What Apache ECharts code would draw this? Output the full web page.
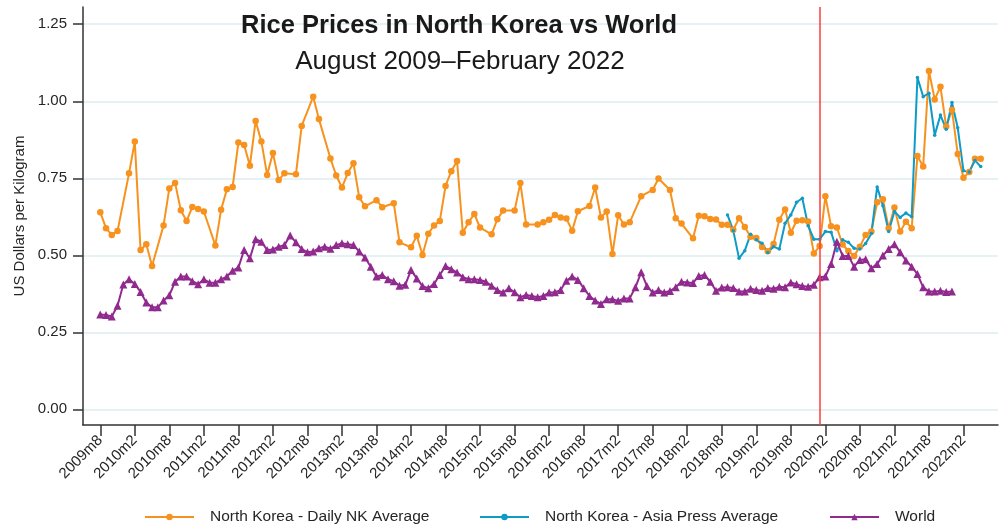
<!DOCTYPE html>
<html>
<head>
<meta charset="utf-8">
<script src="https://cdn.jsdelivr.net/npm/echarts@6/dist/echarts.min.js"></script>
<style>
  html, body { margin: 0; background: #fff; }
  #chart { width: 1000px; height: 526px; }
</style>
</head>
<body>
<div id="chart"></div>
<script>
// Months are counted from 2009m8 (index 0). null = no observation that month.
const tickLabels = [
  "2009m8", "2010m2", "2010m8", "2011m2", "2011m8", "2012m2", "2012m8",
  "2013m2", "2013m8", "2014m2", "2014m8", "2015m2", "2015m8", "2016m2",
  "2016m8", "2017m2", "2017m8", "2018m2", "2018m8", "2019m2", "2019m8",
  "2020m2", "2020m8", "2021m2", "2021m8", "2022m2",
];
const yTicks = [0, 0.25, 0.5, 0.75, 1.0, 1.25];

const dailyNK = [
  0.640, 0.588, 0.566, 0.579, null, 0.766, 0.869, 0.517, 0.536, 0.465,
  null, 0.597, 0.717, 0.735, 0.646, 0.611, 0.657, 0.650, 0.642, null,
  0.532, 0.648, 0.714, 0.722, 0.866, 0.858, 0.791, 0.936, 0.869, 0.761,
  0.832, 0.744, 0.766, null, 0.763, 0.920, null, 1.015, 0.942, null,
  0.814, 0.759, 0.720, 0.767, 0.799, 0.688, 0.659, null, 0.679, 0.656,
  null, 0.669, 0.542, null, 0.526, 0.563, 0.501, 0.570, 0.597, 0.611,
  0.725, 0.773, 0.806, 0.573, 0.607, 0.634, 0.590, null, 0.568, 0.617,
  0.645, null, 0.645, 0.735, 0.600, null, 0.600, 0.607, 0.615, 0.631,
  0.623, 0.619, 0.580, 0.643, null, 0.660, 0.720, 0.623, 0.642, 0.504,
  0.630, 0.600, 0.607, null, 0.692, null, 0.712, 0.749, null, 0.712,
  0.620, 0.603, null, 0.555, 0.628, 0.627, 0.618, 0.616, 0.599, 0.599,
  0.583, 0.620, 0.592, 0.560, 0.556, 0.527, 0.513, 0.537, 0.615, 0.649,
  0.573, 0.612, 0.614, 0.610, 0.506, 0.530, 0.692, 0.594, 0.590, 0.535,
  0.514, 0.498, 0.528, 0.566, 0.577, 0.672, 0.682, 0.588, 0.655, 0.577,
  0.609, 0.588, 0.822, 0.788, 1.098, 1.006, 1.047, 0.918, 0.972, 0.829,
  0.752, 0.770, 0.813, 0.813,
];

// Asia Press series begins in 2018m9
const asiaPressStart = "2018m9";
const asiaPress = [
  0.631, 0.580, 0.490, 0.515, 0.568, 0.550, 0.539, 0.509, 0.528, 0.520,
  0.604, 0.631, 0.672, 0.685, 0.596, 0.552, 0.552, 0.577, 0.575, 0.515,
  0.550, 0.542, 0.523, 0.520, 0.538, 0.571, 0.722, 0.661, 0.577, 0.642,
  0.623, 0.637, 0.625, 1.077, 1.015, 1.026, 0.890, 0.955, 0.909, 0.996,
  0.914, 0.774, 0.770, 0.808, 0.788,
];

const world = [
  0.308, 0.306, 0.301, 0.336, 0.405, 0.422, 0.407, 0.381, 0.347, 0.331,
  0.331, 0.353, 0.370, 0.414, 0.431, 0.431, 0.416, 0.406, 0.422, 0.411,
  0.411, 0.422, 0.431, 0.450, 0.460, 0.517, 0.490, 0.552, 0.544, 0.517,
  0.519, 0.528, 0.533, 0.564, 0.542, 0.520, 0.510, 0.512, 0.523, 0.528,
  0.521, 0.533, 0.539, 0.536, 0.533, 0.512, 0.493, 0.463, 0.431, 0.436,
  0.422, 0.416, 0.401, 0.404, 0.452, 0.425, 0.400, 0.393, 0.407, 0.436,
  0.465, 0.455, 0.444, 0.429, 0.422, 0.422, 0.420, 0.414, 0.401, 0.387,
  0.379, 0.393, 0.380, 0.364, 0.371, 0.368, 0.364, 0.368, 0.379, 0.380,
  0.387, 0.417, 0.431, 0.420, 0.393, 0.368, 0.353, 0.342, 0.357, 0.357,
  0.352, 0.360, 0.360, 0.396, 0.445, 0.400, 0.379, 0.387, 0.379, 0.384,
  0.396, 0.414, 0.412, 0.410, 0.433, 0.436, 0.414, 0.385, 0.395, 0.396,
  0.394, 0.382, 0.382, 0.391, 0.387, 0.385, 0.394, 0.391, 0.398, 0.396,
  0.412, 0.406, 0.400, 0.398, 0.404, 0.429, 0.431, 0.472, 0.544, 0.498,
  0.498, 0.463, 0.485, 0.487, 0.458, 0.472, 0.499, 0.520, 0.536, 0.510,
  0.483, 0.463, 0.439, 0.396, 0.382, 0.382, 0.385, 0.381, 0.382,
];

const breakMonth = "2020m1"; // red reference line

const names = [
  "North Korea - Daily NK Average",
  "North Korea - Asia Press Average",
  "World",
];
const colors = ["#f7921e", "#0e9bc5", "#912a8e"];

function monthIndex(label) {
  const [y, m] = label.split("m").map(Number);
  return (y - 2009) * 12 + (m - 8);
}
function monthLabel(i) {
  const t = 2009 * 12 + 7 + i;
  return Math.floor(t / 12) + "m" + ((t % 12) + 1);
}
function pairs(values, offset) {
  return values
    .map((v, i) => (v == null ? null : [i + offset, v]))
    .filter(Boolean);
}

const FONT = "'Liberation Sans', Arial, Helvetica, sans-serif";
const INK = "#262626";

const chart = echarts.init(document.getElementById("chart"), null, { renderer: "canvas" });

const legendLeft = [144, 479, 829];

chart.setOption({
  animation: false,
  textStyle: { fontFamily: FONT, color: INK },
  title: [
    {
      text: "Rice Prices in North Korea vs World",
      left: 459, top: 13, textAlign: "center", padding: 0,
      textStyle: { fontSize: 25.5, fontWeight: "bold", color: "#1a1a1a", fontFamily: FONT },
    },
    {
      text: "August 2009\u2013February 2022",
      left: 460, top: 49, textAlign: "center", padding: 0,
      textStyle: { fontSize: 26, fontWeight: "normal", color: "#1a1a1a", fontFamily: FONT },
    },
  ],
  legend: names.map((n, k) => ({
    data: [n],
    left: legendLeft[k],
    top: 509,
    padding: 0,
    itemWidth: 49,
    itemHeight: 8,
    selectedMode: false,
    textStyle: { fontSize: 15.5, color: INK, fontFamily: FONT, padding: [0, 0, 0, 11] },
  })),
  grid: { left: 83, right: 2, top: 7, bottom: 101, containLabel: false },
  xAxis: {
    type: "value",
    min: -3,
    max: 156,
    axisLine: { show: true, onZero: false, lineStyle: { color: "#333", width: 1.5 } },
    axisTick: {
      show: true, length: 11, lineStyle: { color: "#333", width: 1.5 },
      customValues: tickLabels.map(monthIndex),
    },
    axisLabel: {
      customValues: tickLabels.map(monthIndex),
      rotate: 45, fontSize: 15, color: INK, margin: 13,
      formatter: (v) => monthLabel(v),
    },
    splitLine: { show: false },
  },
  yAxis: {
    type: "value",
    min: -0.051,
    max: 1.306,
    name: "US Dollars per Kilogram",
    nameLocation: "middle",
    nameGap: 56,
    nameTextStyle: { fontSize: 15, color: INK, fontFamily: FONT },
    axisLine: { show: true, onZero: false, lineStyle: { color: "#333", width: 1.5 } },
    axisTick: {
      show: true, length: 10, lineStyle: { color: "#333", width: 1.5 },
      customValues: yTicks,
    },
    axisLabel: {
      customValues: yTicks,
      fontSize: 15, color: INK, margin: 16,
      formatter: (v) => v.toFixed(2),
    },
    splitLine: { show: true, lineStyle: { color: "#e6f1f4", width: 2 } },
  },
  series: [
    {
      name: names[0], type: "line",
      data: pairs(dailyNK, 0),
      color: colors[0],
      lineStyle: { width: 2 },
      symbol: "circle", symbolSize: 6.5, showSymbol: true,
      emphasis: { disabled: true },
      markLine: {
        silent: true, symbol: "none", label: { show: false },
        lineStyle: { color: "#ff3b3b", width: 1.5, type: "solid" },
        data: [{ xAxis: monthIndex(breakMonth) }],
      },
    },
    {
      name: names[1], type: "line",
      data: pairs(asiaPress, monthIndex(asiaPressStart)),
      color: colors[1],
      lineStyle: { width: 2 },
      symbol: "circle", symbolSize: 3.5, showSymbol: true,
      emphasis: { disabled: true },
    },
    {
      name: names[2], type: "line",
      data: pairs(world, 0),
      color: colors[2],
      lineStyle: { width: 2 },
      symbol: "triangle", symbolSize: 8, showSymbol: true,
      emphasis: { disabled: true },
    },
  ],
});
window.addEventListener("resize", () => chart.resize());
</script>
</body>
</html>
